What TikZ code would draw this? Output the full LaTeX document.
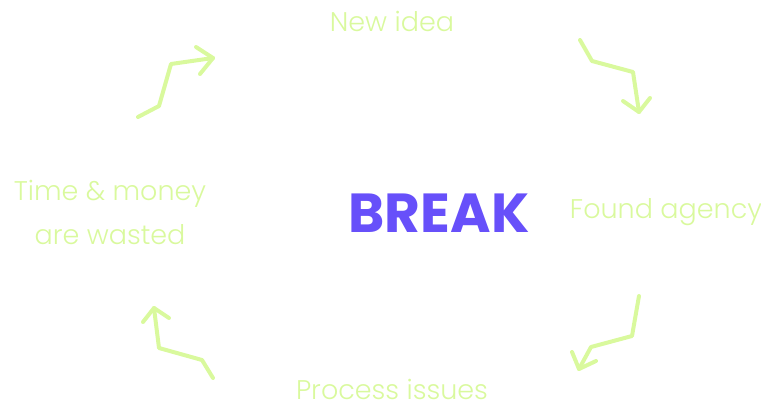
\documentclass[tikz,border=0pt]{standalone}
\usepackage{fontspec}
\setmainfont{Poppins}
\newfontfamily\lblfont{Poppins Light}
\definecolor{lime}{HTML}{D9F99D}
\definecolor{brk}{HTML}{6750FA}
\begin{document}
\begin{tikzpicture}[x=1pt,y=-1pt,
  flow/.style={draw=lime,line width=4pt,line cap=round,line join=round},
  lbl/.style={text=lime,font=\lblfont\fontsize{27}{44}\selectfont,align=center,inner sep=0pt},
  center/.style={text=brk,font=\bfseries\fontsize{55}{66}\selectfont,inner sep=0pt}]
\useasboundingbox (0,0) rectangle (761,416);
\node[center] (brk) at (439,213) {BREAK};
\node[lbl] (idea) at (392,21) {New idea};
\node[lbl] (found) at (666,212) {Found agency};
\node[lbl] (proc) at (392,389) {Process issues};
\node[lbl] (time) at (110,212) {Time \& money\\are wasted};
% arrow 1
\coordinate (a1s) at (138,117);
\coordinate (a1t) at (213,58);
\draw[flow] (a1s) -- (159,106) -- (171,64) -- (a1t);
\draw[flow] (196,47) -- (a1t) -- (200,74);
% arrow 2
\coordinate (a2s) at (580,40);
\coordinate (a2t) at (639,112);
\draw[flow] (a2s) -- (592,61) -- (633,72) -- (a2t);
\draw[flow] (623,101) -- (a2t) -- (650,98);
% arrow 3
\coordinate (a3s) at (639,296);
\coordinate (a3t) at (579,369);
\draw[flow] (a3s) -- (632,336) -- (591,347) -- (a3t);
\draw[flow] (572,352) -- (a3t) -- (596,361);
% arrow 4
\coordinate (a4s) at (213,378);
\coordinate (a4t) at (154,308);
\draw[flow] (a4s) -- (202,360) -- (159,348) -- (a4t);
\draw[flow] (143,322) -- (a4t) -- (169,318);
\end{tikzpicture}
\end{document}
